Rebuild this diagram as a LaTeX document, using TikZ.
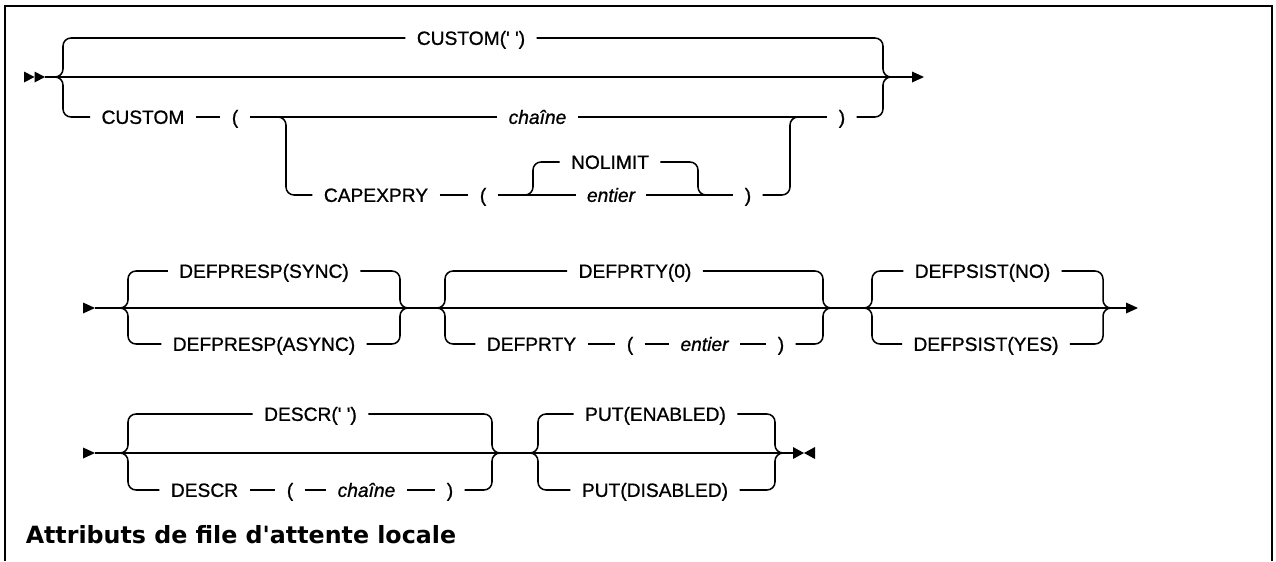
\documentclass[tikz,border=0pt]{standalone}
\usepackage{fontspec}
\setmainfont{Liberation Sans}
\newfontfamily\lblfont{Liberation Sans}[FakeBold=0.9]
\newfontfamily\titlefont{DejaVu Sans}
\begin{document}
\begin{tikzpicture}[x=0.75pt,y=-0.75pt, line width=1.15pt,
  lbl/.style={font=\lblfont\fontsize{14.4pt}{16pt}\selectfont, inner xsep=8pt, inner ysep=0pt, text height=10.3pt, text depth=0pt},
  var/.style={lbl, font=\lblfont\fontsize{14.4pt}{16pt}\selectfont\itshape},
  br/.style={rounded corners=6pt}]
\useasboundingbox (0,0) rectangle (1276,561);
\draw[line width=2.2pt] (5,561) -- (5,6) -- (1272,6) -- (1272,561);

% ---------- Row 1 ----------
\coordinate (r1s) at (45,77); \coordinate (r1e) at (912,77);
\fill (24,71.5) -- (34.5,77) -- (24,82.5) -- cycle;
\fill (34.5,71.5) -- (45,77) -- (34.5,82.5) -- cycle;
\fill (912,71.5) -- (924,77) -- (912,82.5) -- cycle;
\draw (r1s) -- (r1e);
\coordinate (g0L) at (63,77); \coordinate (g0R) at (883,77);
\node[lbl] (custq) at (471,38) {CUSTOM(\textquotesingle\ \textquotesingle)};
\draw[br] ([xshift=-6pt]g0L) -- (g0L) |- (custq.west);
\draw[br] (custq.east) -| (g0R) -- ([xshift=6pt]g0R);
\node[lbl] (custom) at (143,117) {CUSTOM};
\node[lbl] (lp1) at (235,117) {(};
\node[var] (ch1) at (537.5,117) {chaîne};
\node[lbl] (rp1) at (842,117) {)};
\draw[br] ([xshift=-6pt]g0L) -- (g0L) |- (custom.west);
\draw (custom) -- (lp1) -- (ch1) -- (rp1);
\draw[br] (rp1.east) -| (g0R) -- ([xshift=6pt]g0R);
\coordinate (s1L) at (286,117); \coordinate (s1R) at (790,117);
\node[lbl] (capex) at (376,195) {CAPEXPRY};
\node[lbl] (lp2) at (483,195) {(};
\node[var] (ent1) at (611,195) {entier};
\node[lbl] (rp2) at (748,195) {)};
\node[lbl] (nolim) at (610,162) {NOLIMIT};
\draw[br] ([xshift=-6pt]s1L) -- (s1L) |- (capex.west);
\draw (capex) -- (lp2) -- (ent1) -- (rp2);
\draw[br] (rp2.east) -| (s1R) -- ([xshift=6pt]s1R);
\coordinate (s2L) at (533,195); \coordinate (s2R) at (698,195);
\draw[br] ([xshift=-6pt]s2L) -- (s2L) |- (nolim.west);
\draw[br] (nolim.east) -| (s2R) -- ([xshift=6pt]s2R);

% ---------- Row 2 ----------
\coordinate (r2s) at (95,308); \coordinate (r2e) at (1126,308);
\fill (83,302.5) -- (95,308) -- (83,313.5) -- cycle;
\fill (1126,302.5) -- (1138,308) -- (1126,313.5) -- cycle;
\draw (r2s) -- (r2e);
\coordinate (aL) at (128,308); \coordinate (aR) at (400,308);
\node[lbl] (sync) at (264,271) {DEFPRESP(SYNC)};
\node[lbl] (async) at (264,344) {DEFPRESP(ASYNC)};
\draw[br] ([xshift=-6pt]aL) -- (aL) |- (sync.west);
\draw[br] (sync.east) -| (aR) -- ([xshift=6pt]aR);
\draw[br] ([xshift=-6pt]aL) -- (aL) |- (async.west);
\draw[br] (async.east) -| (aR) -- ([xshift=6pt]aR);
\coordinate (bL) at (445,308); \coordinate (bR) at (823,308);
\node[lbl] (prty0) at (635,271) {DEFPRTY(0)};
\node[lbl] (defprty) at (531.5,344) {DEFPRTY};
\node[lbl] (lp3) at (630,344) {(};
\node[var] (ent2) at (704.5,344) {entier};
\node[lbl] (rp3) at (781,344) {)};
\draw[br] ([xshift=-6pt]bL) -- (bL) |- (prty0.west);
\draw[br] (prty0.east) -| (bR) -- ([xshift=6pt]bR);
\draw[br] ([xshift=-6pt]bL) -- (bL) |- (defprty.west);
\draw (defprty) -- (lp3) -- (ent2) -- (rp3);
\draw[br] (rp3.east) -| (bR) -- ([xshift=6pt]bR);
\coordinate (cL) at (872,308); \coordinate (cR) at (1103,308);
\node[lbl] (psno) at (982.5,271) {DEFPSIST(NO)};
\node[lbl] (psyes) at (986,344) {DEFPSIST(YES)};
\draw[br] ([xshift=-6pt]cL) -- (cL) |- (psno.west);
\draw[br] (psno.east) -| (cR) -- ([xshift=6pt]cR);
\draw[br] ([xshift=-6pt]cL) -- (cL) |- (psyes.west);
\draw[br] (psyes.east) -| (cR) -- ([xshift=6pt]cR);

% ---------- Row 3 ----------
\coordinate (r3s) at (95,453); \coordinate (r3e) at (793,453);
\fill (83,447.5) -- (95,453) -- (83,458.5) -- cycle;
\fill (793,447) -- (804,453) -- (793,459) -- cycle;
\fill (815,447) -- (804,453) -- (815,459) -- cycle;
\draw (r3s) -- (r3e);
\coordinate (dL) at (128,453); \coordinate (dR) at (492,453);
\node[lbl] (descrq) at (310.5,414) {DESCR(\textquotesingle\ \textquotesingle)};
\node[lbl] (descr) at (204.5,490) {DESCR};
\node[lbl] (lp4) at (290,490) {(};
\node[var] (ch2) at (366.5,490) {chaîne};
\node[lbl] (rp4) at (450,490) {)};
\draw[br] ([xshift=-6pt]dL) -- (dL) |- (descrq.west);
\draw[br] (descrq.east) -| (dR) -- ([xshift=6pt]dR);
\draw[br] ([xshift=-6pt]dL) -- (dL) |- (descr.west);
\draw (descr) -- (lp4) -- (ch2) -- (rp4);
\draw[br] (rp4.east) -| (dR) -- ([xshift=6pt]dR);
\coordinate (eL) at (538,453); \coordinate (eR) at (775,453);
\node[lbl] (enab) at (655.5,414) {PUT(ENABLED)};
\node[lbl] (disab) at (655,490) {PUT(DISABLED)};
\draw[br] ([xshift=-6pt]eL) -- (eL) |- (enab.west);
\draw[br] (enab.east) -| (eR) -- ([xshift=6pt]eR);
\draw[br] ([xshift=-6pt]eL) -- (eL) |- (disab.west);
\draw[br] (disab.east) -| (eR) -- ([xshift=6pt]eR);

\node[anchor=west, inner sep=0pt, font=\titlefont\bfseries\fontsize{17.8pt}{20pt}\selectfont] (title) at (25,535) {Attributs de file d\textquotesingle attente locale};
\end{tikzpicture}
\end{document}
